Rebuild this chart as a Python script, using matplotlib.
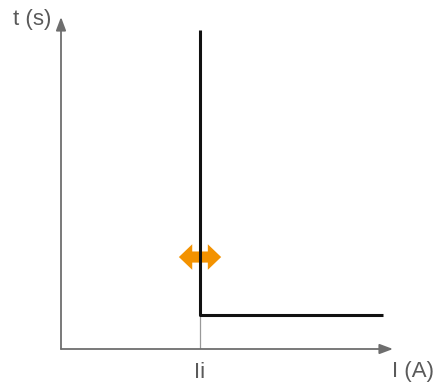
import matplotlib
matplotlib.use("Agg")
import matplotlib.pyplot as plt

# curva de disparo instantáneo (unidades arbitrarias)
Ii = 1.0
corriente = [Ii, Ii, 2.317]
tiempo = [0.961, 0.102, 0.102]
t_flecha = 0.277
ancho_flecha = 0.152
x_max = 2.388
y_max = 1.0

gris = "#6e6e6e"
texto = "#5a5a5a"
naranja = "#f39200"

fig = plt.figure(figsize=(4.35, 3.92), dpi=100)
ax = fig.add_axes([61 / 435, (392 - 349) / 392, 332 / 435, 332 / 392])
ax.set_xlim(0, x_max)
ax.set_ylim(0, y_max)
ax.axis("off")

# ejes con flecha
flecha_eje = dict(arrowstyle="-|>,head_length=0.8,head_width=0.3", color=gris, lw=1.3,
                  shrinkA=0, shrinkB=0)
ax.annotate("", xy=(x_max, 0), xytext=(0, 0), arrowprops=flecha_eje, annotation_clip=False)
ax.annotate("", xy=(0, y_max), xytext=(0, 0), arrowprops=flecha_eje, annotation_clip=False)

# marca de Ii
ax.plot([Ii, Ii], [0, tiempo[1]], color="#999999", lw=0.9)

# flecha doble de ajuste
estilo = "simple,head_length=0.6,head_width=1.15,tail_width=0.5"
for signo in (-1, 1):
    ax.annotate("", xy=(Ii + signo * ancho_flecha, t_flecha), xytext=(Ii, t_flecha),
                arrowprops=dict(arrowstyle=estilo, color=naranja, lw=0,
                                shrinkA=0, shrinkB=0, mutation_scale=16))

# curva
ax.plot(corriente, tiempo, color="#111111", lw=2.2, solid_joinstyle="round",
        solid_capstyle="butt", clip_on=False, zorder=5)

fuente = dict(family="Liberation Sans", fontsize=16, color=texto)
fig.text(13 / 435, 1 - 20 / 392, "t (s)", ha="left", va="center", **fuente)
fig.text(200 / 435, 1 - 372 / 392, "Ii", ha="center", va="center", **fuente)
fig.text(434 / 435, 1 - 372 / 392, "I (A)", ha="right", va="center", **fuente)

fig.savefig("out.png", dpi=100)
